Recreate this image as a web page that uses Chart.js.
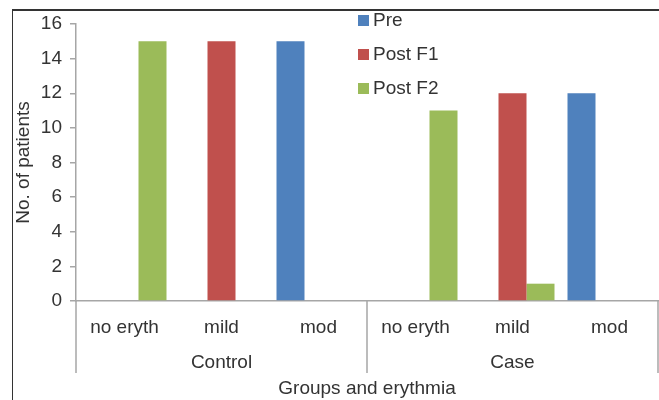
<!DOCTYPE html>
<html>
<head>
<meta charset="utf-8">
<script src="https://cdn.jsdelivr.net/npm/chart.js@4.4.1/dist/chart.umd.min.js"></script>
<style>
html,body{margin:0;padding:0;background:#fff;}
#wrap{position:relative;width:659px;height:400px;overflow:hidden;font-family:"Liberation Sans",Arial,sans-serif;}
#frame{position:absolute;left:12px;top:9px;width:700px;height:450px;border-left:1px solid #333;border-top:2px solid #333;}
#legend{position:absolute;left:358px;top:3px;}
.item{height:34px;display:flex;align-items:center;font-size:19px;color:#333;}
.item span{display:inline-block;width:11px;height:11px;margin-right:4px;}
canvas{position:absolute;left:0;top:0;}
</style>
</head>
<body>
<div id="wrap">
<div id="frame"></div>
<canvas id="c" width="659" height="400"></canvas>
<div id="legend"></div>
</div>
<script>
const categories=['no eryth','mild','mod','no eryth','mild','mod'];
const groups=['Control','Case'];
const seriesNames=['Pre','Post F1','Post F2'];
const preVals=[0,0,15,0,0,12];
const postF1Vals=[0,15,0,0,12,0];
const postF2Vals=[15,0,0,11,1,0];
const yTicks=[0,2,4,6,8,10,12,14,16];
const colors=['#4F81BD','#C0504D','#9BBB59'];

const font={family:'"Liberation Sans",Arial,sans-serif',size:19};
const axisGray='#a6a6a6';

// separators between the groups under the x axis
const groupLines={id:'groupLines',afterDraw(chart){
const x=chart.scales.x,ctx=chart.ctx;
const per=categories.length/groups.length;
const top=chart.chartArea.bottom,bot=chart.scales.x2.top+34;
ctx.save();ctx.strokeStyle=axisGray;ctx.lineWidth=1.5;
for(let g=0;g<=groups.length;g++){
const p=Math.round(x.getPixelForValue(g*per-0.5));
ctx.beginPath();ctx.moveTo(p,top);ctx.lineTo(p,bot);ctx.stroke();
}
ctx.restore();
}};

new Chart(document.getElementById('c'),{
type:'bar',
data:{labels:categories,datasets:[
{label:seriesNames[0],data:preVals,backgroundColor:colors[0]},
{label:seriesNames[1],data:postF1Vals,backgroundColor:colors[1]},
{label:seriesNames[2],data:postF2Vals,backgroundColor:colors[2]}
]},
options:{responsive:false,animation:false,
layout:{padding:{left:12,top:24,right:1,bottom:0}},
datasets:{bar:{categoryPercentage:0.866,barPercentage:1,borderWidth:0}},
plugins:{legend:{display:false},tooltip:{enabled:false}},
scales:{
x:{grid:{display:false,drawTicks:false},border:{color:axisGray,width:1.5},
ticks:{font,color:'#333',padding:15},
afterFit:s=>{s.height=38;}},
x2:{type:'category',labels:groups,position:'bottom',offset:true,
grid:{display:false,drawTicks:false},border:{display:false},
ticks:{font,color:'#333',padding:12},
title:{display:true,text:'Groups and erythmia',font,color:'#333',padding:{top:0,bottom:0}},
afterFit:s=>{s.height=61;}},
y:{min:0,max:16,
afterBuildTicks:s=>{s.ticks=yTicks.map(v=>({value:v}));},
grid:{drawOnChartArea:false,tickLength:6,color:axisGray,lineWidth:1.5},
border:{color:axisGray,width:1.5},
ticks:{font,color:'#333',padding:8},
title:{display:true,text:'No. of patients',font,color:'#333',padding:{top:0,bottom:2}},
afterFit:s=>{s.width=64;}}
}},
plugins:[groupLines]
});

document.getElementById('legend').innerHTML=seriesNames.map((n,i)=>
'<div class="item"><span style="background:'+colors[i]+'"></span>'+n+'</div>').join('');
</script>
</body>
</html>
